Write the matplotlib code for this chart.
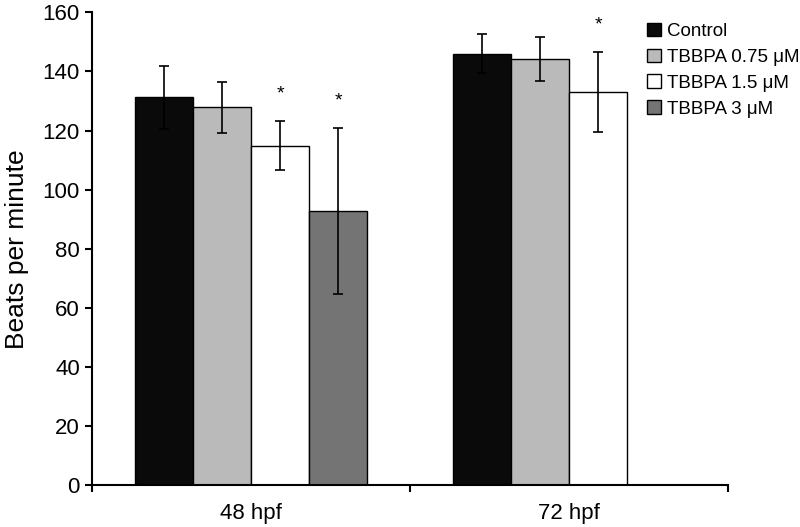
import numpy as np
import matplotlib
matplotlib.use("Agg")
import matplotlib.pyplot as plt

plt.rcParams['font.family'] = ['Liberation Sans', 'DejaVu Sans']

# Data
groups = ['48 hpf', '72 hpf']
series = ['Control', 'TBBPA 0.75 \u03bcM', 'TBBPA 1.5 \u03bcM', 'TBBPA 3 \u03bcM']
colors = ['#0a0a0a', '#bababa', '#ffffff', '#747474']
means = [
    [131.2, 146.0],
    [127.8, 144.2],
    [114.9, 133.0],
    [92.7, np.nan],
]
errs = [
    [10.7, 6.5],
    [8.7, 7.5],
    [8.3, 13.4],
    [28.0, np.nan],
]
# significance marks (series index, group index)
stars = [(2, 0), (3, 0), (2, 1)]

fig = plt.figure(figsize=(8, 5.27), dpi=100)
ax = fig.add_axes([0.1154, 0.0791, 0.7950, 0.8976])

x = np.arange(len(groups))
width = 0.1824
n = len(series)
handles = []
for i in range(n):
    pos = x + (i - (n - 1) / 2) * width
    b = ax.bar(pos, means[i], width, color=colors[i], edgecolor='black',
               linewidth=1.0, label=series[i], zorder=2)
    ax.errorbar(pos, means[i], yerr=errs[i], fmt='none', ecolor='black',
                elinewidth=1.2, capsize=3.5, capthick=1.2, zorder=3)
    handles.append(b)

for i, g in stars:
    pos = x[g] + (i - (n - 1) / 2) * width
    ax.text(pos, means[i][g] + errs[i][g] + 7.8, '*', ha='center', va='baseline',
            fontsize=14)

ax.set_xlim(-0.5, 1.5)
ax.set_ylim(0, 160)
ax.set_yticks(np.arange(0, 161, 20))
ax.set_xticks([-0.5, 0.5, 1.5])
ax.set_xticklabels([])
ax.set_xticks(x, minor=True)
ax.set_xticklabels(groups, minor=True, fontsize=16)
ax.tick_params(axis='x', which='minor', length=0, pad=13)
ax.tick_params(axis='x', which='major', length=5, width=1.5, direction='out')
ax.tick_params(axis='y', length=5, width=1.5, direction='out', labelsize=16, pad=4)
ax.set_ylabel('Beats per minute', fontsize=19, labelpad=10)

for s in ['top', 'right']:
    ax.spines[s].set_visible(False)
for s in ['left', 'bottom']:
    ax.spines[s].set_linewidth(1.5)

fig.legend(handles=handles, labels=series, loc='upper left',
           bbox_to_anchor=(0.809, 0.957), frameon=False, fontsize=13.5,
           handlelength=0.75, handleheight=0.75, handletextpad=0.3,
           labelspacing=0.45, borderpad=0, borderaxespad=0)

fig.savefig('out.png', dpi=100)
